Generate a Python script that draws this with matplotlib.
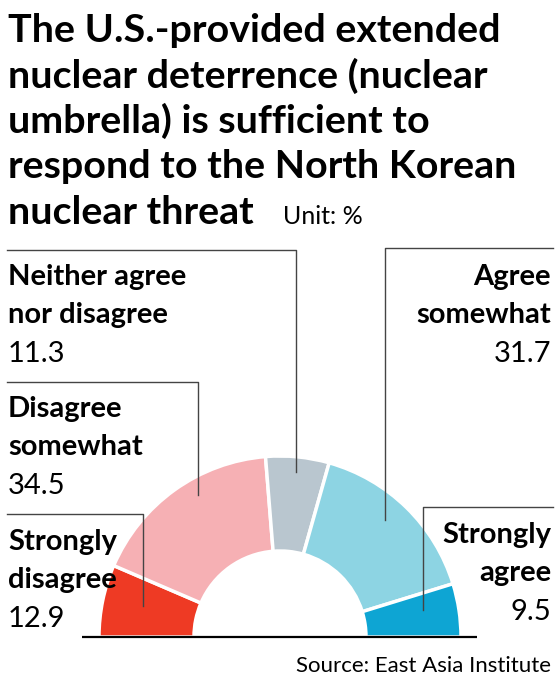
import matplotlib.pyplot as plt

W, H = 559, 680

# data
categories = ['Strongly\ndisagree', 'Disagree\nsomewhat', 'Neither agree\nnor disagree',
              'Agree\nsomewhat', 'Strongly\nagree']
values = [12.9, 34.5, 11.3, 31.7, 9.5]
colors = ['#ee3a24', '#f6b0b4', '#b9c6cf', '#8dd4e3', '#0ea5d3']

title = ('The U.S.-provided extended\nnuclear deterrence (nuclear\n'
         'umbrella) is sufficient to\nrespond to the North Korean\nnuclear threat')

plt.rcParams['font.family'] = ['Lato', 'DejaVu Sans']

fig = plt.figure(figsize=(W / 100, H / 100), dpi=100)
ax = fig.add_axes([0, 0, 1, 1])

# half donut: extra invisible wedge takes the bottom half
cx, cy = 280, H - 637
R, r = 181, 86
wedges, _ = ax.pie(values + [sum(values)], colors=colors + ['white'],
                   startangle=180, counterclock=False, center=(cx, cy), radius=R,
                   wedgeprops=dict(width=R - r, edgecolor='white', linewidth=2.5))
wedges[-1].set_visible(False)

ax.set_xlim(0, W)
ax.set_ylim(0, H)
ax.axis('off')


def y(px):
    return H - px


# base line
ax.plot([82, 477], [y(637), y(637)], color='black', lw=1.6, solid_capstyle='butt')

# title
lines = title.split('\n')
for i, t in enumerate(lines):
    ax.text(8, y(42 + i * 45.5), t, fontsize=28.4, fontweight='bold', va='baseline', ha='left')
ax.text(283, y(224), 'Unit: %', fontsize=18, va='baseline', ha='left')

# leader lines (label side -> wedge)
lc = '#444444'
leaders = [
    ([7, 143, 143], [514, 514, 606]),
    ([7, 198, 198], [382, 382, 495]),
    ([7, 296, 296], [250, 250, 472]),
    ([553, 385, 385], [248, 248, 520]),
    ([553, 423, 423], [507, 507, 610]),
]
for xs, ys in leaders:
    ax.plot(xs, [y(v) for v in ys], color=lc, lw=1.0)

# labels
lab_pos = [
    (8, 550, 'left'),
    (8, 417, 'left'),
    (8, 285, 'left'),
    (551, 285, 'right'),
    (551, 543, 'right'),
]
for cat, val, (lx, ly, ha) in zip(categories, values, lab_pos):
    l1, l2 = cat.split('\n')
    ax.text(lx, y(ly), l1, fontsize=21, fontweight='bold', va='baseline', ha=ha)
    ax.text(lx, y(ly + 38), l2, fontsize=21, fontweight='bold', va='baseline', ha=ha)
    ax.text(lx, y(ly + 77), f'{val}', fontsize=21, va='baseline', ha=ha)

ax.text(551, y(672), 'Source: East Asia Institute', fontsize=16, va='baseline', ha='right')

fig.savefig('out.png', dpi=100)
